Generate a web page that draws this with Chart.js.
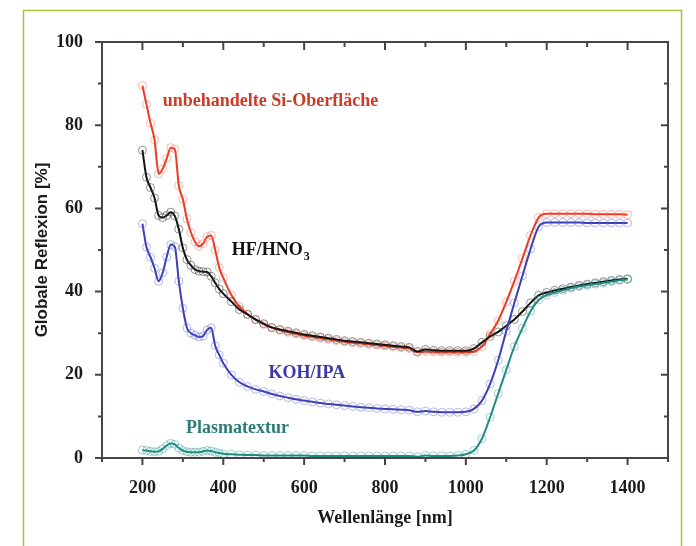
<!DOCTYPE html>
<html>
<head>
<meta charset="utf-8">
<script src="https://cdn.jsdelivr.net/npm/chart.js@4.4.1/dist/chart.umd.min.js"></script>
<style>
  html, body { margin: 0; padding: 0; background: #fff; }
  #wrap { width: 696px; height: 546px; position: relative; }
</style>
</head>
<body>
<div id="wrap"><canvas id="myChart" width="696" height="546"></canvas></div>
<script>
// wavelengths in nm
const wavelengths = [200,210,220,230,240,250,260,270,280,290,300,310,320,330,340,350,360,370,380,390,400,
  420,440,460,480,500,520,540,560,580,600,620,640,660,680,700,720,740,760,780,800,
  820,840,860,880,900,920,940,960,980,1000,1020,1040,1060,1080,1100,1120,1140,1160,1180,1200,
  1220,1240,1260,1280,1300,1320,1340,1360,1380,1400];

// Globale Reflexion in %
const untreated = [89.5,85,80.5,76.5,68.3,69.5,72,74.6,74.3,65.5,62.2,57.5,54.2,52,50.9,51.5,53.2,53.5,50,45.8,43.3,
  39.2,36.4,34.6,33.2,32.1,31.3,30.7,30.2,29.8,29.4,29.1,28.8,28.5,28.2,27.9,27.7,27.5,27.3,27.1,26.9,
  26.7,26.5,26.3,25.4,25.6,25.5,25.4,25.4,25.4,25.4,25.6,26.8,29.8,33,37.5,42.5,48,53.5,57.8,58.7,
  58.7,58.7,58.7,58.7,58.7,58.6,58.6,58.6,58.6,58.5];
const hfHno3 = [74,67.5,65,62.5,58.3,57.8,58.3,59.1,58.2,55,50.5,47.7,46.3,45.3,44.9,44.8,44.7,43.7,42.1,40.6,39.5,
  37.6,35.7,34.5,33.3,32.3,31.4,30.9,30.5,30.1,29.7,29.4,29.1,28.8,28.5,28.2,28,27.8,27.6,27.4,27.2,
  27,26.8,26.6,25.6,26.1,25.9,25.8,25.8,25.8,25.8,26.3,27.8,29.2,30.3,31.8,33.3,35.2,37.3,39.1,39.8,
  40.3,40.7,41.1,41.5,41.8,42.1,42.4,42.7,42.9,43.1];
const kohIpa = [56.3,50.7,48.3,45.6,42.5,44.5,48.3,51.3,50.8,42.5,36,31.3,30,29.5,29.1,29.3,30.8,31.3,27,24.8,22.8,
  20,18.2,17.2,16.5,16,15.4,14.9,14.5,14.1,13.8,13.5,13.2,13,12.8,12.6,12.4,12.2,12.1,11.9,11.8,
  11.7,11.6,11.5,11.1,11.3,11.1,11,11,11,11.1,11.8,13.8,17.8,23.5,30.5,37.3,43.8,50.2,55.6,56.6,
  56.6,56.6,56.6,56.6,56.5,56.5,56.5,56.5,56.5,56.5];
const plasma = [1.9,1.8,1.6,1.5,1.6,2.2,3,3.5,3.3,2.4,1.8,1.5,1.4,1.4,1.4,1.6,1.8,1.7,1.4,1.2,1,
  0.9,0.8,0.7,0.7,0.6,0.6,0.6,0.6,0.6,0.6,0.5,0.5,0.5,0.5,0.5,0.5,0.5,0.5,0.5,0.5,
  0.5,0.5,0.5,0.3,0.6,0.5,0.5,0.5,0.6,0.9,1.8,4.7,9.8,15.5,21.2,26.8,31.2,35.3,38,39.2,
  39.8,40.3,40.8,41.2,41.5,41.8,42.1,42.4,42.7,42.9];

const xTicks = [200,400,600,800,1000,1200,1400];
const yTicks = [0,20,40,60,80,100];

const serif = '"Liberation Serif", "DejaVu Serif", serif';
const axisColor = '#4a4343';

function pts(values) {
  return wavelengths.map((w, i) => ({x: w, y: values[i]}));
}

function series(values, line, circle) {
  return {
    data: pts(values),
    borderColor: line,
    borderWidth: 2,
    pointRadius: 4,
    pointBorderWidth: 1,
    pointBorderColor: circle,
    pointBackgroundColor: 'rgba(0,0,0,0)',
    cubicInterpolationMode: 'monotone',
    fill: false
  };
}

// frame, axis box, ticks, titles, curve labels
const decorations = {
  id: 'decorations',
  beforeDraw(chart) {
    const c = chart.ctx;
    c.save();
    c.fillStyle = '#fff';
    c.fillRect(0, 0, chart.width, chart.height);
    c.strokeStyle = '#a9c43c';
    c.lineWidth = 1.5;
    c.strokeRect(23.5, 10.5, 658, 600);
    c.restore();
  },
  afterDraw(chart) {
    const c = chart.ctx;
    const a = chart.chartArea;
    const xs = chart.scales.x, ys = chart.scales.y;
    c.save();
    c.strokeStyle = axisColor;
    c.lineWidth = 2;
    c.strokeRect(a.left, a.top, a.right - a.left, a.bottom - a.top);
    c.beginPath();
    for (let v = 100; v <= 1500; v += 100) {
      const px = xs.getPixelForValue(v);
      const big = v % 200 === 0;
      const len = big ? 7 : 4;
      c.moveTo(px, a.bottom); c.lineTo(px, a.bottom + len);
      c.moveTo(px, a.top); c.lineTo(px, a.top + len + 1);
    }
    for (let v = 0; v <= 100; v += 10) {
      const py = ys.getPixelForValue(v);
      const big = v % 20 === 0;
      const len = big ? 7 : 4;
      c.moveTo(a.left, py); c.lineTo(a.left - len, py);
      c.moveTo(a.right, py); c.lineTo(a.right - len, py);
    }
    c.stroke();

    // axis titles
    c.fillStyle = '#1a1a1a';
    c.font = 'bold 18px ' + serif;
    c.textAlign = 'center';
    c.textBaseline = 'middle';
    c.fillText('Wellenlänge [nm]', (a.left + a.right) / 2, 518);
    c.save();
    c.translate(42, (a.top + a.bottom) / 2);
    c.rotate(-Math.PI / 2);
    c.font = 'bold 17px "Liberation Sans", Arial, sans-serif';
    c.fillText('Globale Reflexion [%]', 0, 0);
    c.restore();

    // curve labels
    c.textAlign = 'left';
    c.font = 'bold 18px ' + serif;
    c.fillStyle = '#cc3b28';
    c.fillText('unbehandelte Si-Oberfläche', xs.getPixelForValue(250), ys.getPixelForValue(85.8));
    c.fillStyle = '#111';
    const hx = xs.getPixelForValue(421), hy = ys.getPixelForValue(50);
    c.fillText('HF/HNO', hx, hy);
    const w = c.measureText('HF/HNO').width;
    c.font = 'bold 12px ' + serif;
    c.fillText('3', hx + w + 1, hy + 7);
    c.font = 'bold 18px ' + serif;
    c.fillStyle = '#3a3aa6';
    c.fillText('KOH/IPA', xs.getPixelForValue(512), ys.getPixelForValue(20.4));
    c.fillStyle = '#2a7c76';
    c.fillText('Plasmatextur', xs.getPixelForValue(308), ys.getPixelForValue(7.1));
    c.restore();
  }
};

new Chart(document.getElementById('myChart').getContext('2d'), {
  type: 'line',
  data: {
    datasets: [
      series(plasma, '#1f8a83', 'rgba(40,150,140,0.45)'),
      series(kohIpa, '#3c3fb4', 'rgba(90,95,215,0.45)'),
      series(hfHno3, '#111111', 'rgba(60,60,60,0.55)'),
      series(untreated, '#ec3a22', 'rgba(240,100,80,0.45)')
    ]
  },
  options: {
    responsive: false,
    animation: false,
    layout: { padding: { left: 0, right: 28, top: 42, bottom: 0 } },
    plugins: { legend: { display: false }, tooltip: { enabled: false } },
    scales: {
      x: {
        type: 'linear',
        min: 100, max: 1500,
        afterBuildTicks: s => { s.ticks = xTicks.map(v => ({value: v})); },
        afterFit: s => { s.height = 88; },
        grid: { display: false },
        border: { display: false },
        ticks: { padding: 12, color: '#1a1a1a', font: { family: serif, size: 18, weight: 'bold' }, maxRotation: 0,
          callback: v => String(v) }
      },
      y: {
        min: 0, max: 100,
        afterBuildTicks: s => { s.ticks = yTicks.map(v => ({value: v})); },
        afterFit: s => { s.width = 102; },
        grid: { display: false },
        border: { display: false },
        ticks: { padding: 11, color: '#1a1a1a', font: { family: serif, size: 18, weight: 'bold' },
          callback: v => String(v) }
      }
    }
  },
  plugins: [decorations]
});
</script>
</body>
</html>
